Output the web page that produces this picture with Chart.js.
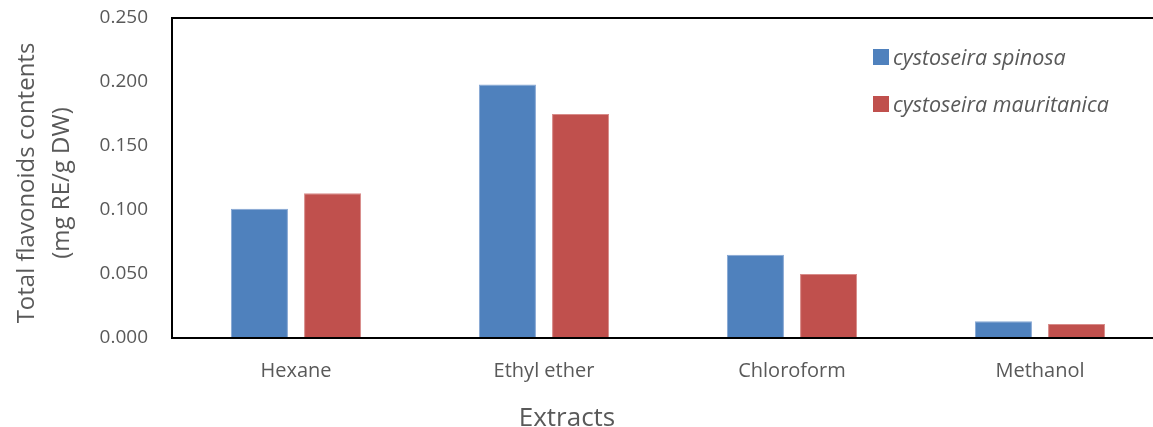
<!DOCTYPE html>
<html>
<head>
<meta charset="utf-8">
<script src="https://cdn.jsdelivr.net/npm/chart.js@4/dist/chart.umd.min.js"></script>
<style>
  html, body { margin: 0; padding: 0; background: #fff; overflow: hidden; }
  #wrap { position: relative; width: 1164px; height: 427px; }
</style>
</head>
<body>
<div id="wrap"><canvas id="chart"></canvas></div>
<script>
// Extract solvents and flavonoid contents (mg RE/g DW)
const categories = ['Hexane', 'Ethyl ether', 'Chloroform', 'Methanol'];
const spinosa = [0.101, 0.198, 0.065, 0.013];
const mauritanica = [0.113, 0.175, 0.050, 0.011];
const yTickLabels = ['0.000', '0.050', '0.100', '0.150', '0.200', '0.250'];
const seriesNames = ['cystoseira spinosa', 'cystoseira mauritanica'];
const yTitle = ['Total flavonoids contents', '(mg RE/g DW)'];
const xTitle = 'Extracts';

const TEXT = '#595959';
const FONT = '"Open Sans", "DejaVu Sans", sans-serif';

// Plot frame: left, top and bottom rules
const framePlugin = {
  id: 'frame',
  afterDatasetsDraw(chart) {
    const { ctx, chartArea: a } = chart;
    ctx.save();
    ctx.strokeStyle = '#000';
    ctx.lineWidth = 2;
    ctx.beginPath();
    ctx.moveTo(a.right + 2, a.top);
    ctx.lineTo(a.left, a.top);
    ctx.lineTo(a.left, a.bottom);
    ctx.lineTo(a.right + 2, a.bottom);
    ctx.stroke();
    ctx.restore();
  }
};

// Axis titles
const titlesPlugin = {
  id: 'titles',
  afterDraw(chart) {
    const { ctx } = chart;
    ctx.save();
    ctx.fillStyle = TEXT;
    ctx.font = '24px ' + FONT;
    ctx.textAlign = 'center';
    ctx.textBaseline = 'alphabetic';
    ctx.translate(34, 183);
    ctx.rotate(-Math.PI / 2);
    ctx.fillText(yTitle[0], 0, 0);
    ctx.fillText(yTitle[1], 0, 34.5);
    ctx.restore();

    ctx.save();
    ctx.fillStyle = TEXT;
    ctx.font = '26px ' + FONT;
    ctx.textAlign = 'center';
    ctx.textBaseline = 'alphabetic';
    ctx.fillText(xTitle, 567, 426);
    ctx.restore();
  }
};

// Legend in the upper right of the plot
const legendPlugin = {
  id: 'sideLegend',
  afterDraw(chart) {
    const { ctx } = chart;
    const rows = [{ box: 49, base: 65 }, { box: 96, base: 112 }];
    ctx.save();
    ctx.font = 'italic 21.5px ' + FONT;
    ctx.textAlign = 'left';
    ctx.textBaseline = 'alphabetic';
    chart.data.datasets.forEach((ds, i) => {
      const r = rows[i];
      ctx.fillStyle = ds.backgroundColor;
      ctx.fillRect(873, r.box, 16, 16);
      ctx.fillStyle = TEXT;
      ctx.fillText(ds.label, 893, r.base);
    });
    ctx.restore();
  }
};

new Chart(document.getElementById('chart'), {
  type: 'bar',
  data: {
    labels: categories,
    datasets: [
      {
        label: seriesNames[0],
        data: spinosa,
        backgroundColor: '#4F81BD',
        borderColor: '#86A6D3',
        borderWidth: 1,
        borderSkipped: 'start',
        categoryPercentage: 0.59,
        barPercentage: 0.78
      },
      {
        label: seriesNames[1],
        data: mauritanica,
        backgroundColor: '#C0504D',
        borderColor: '#D88B89',
        borderWidth: 1,
        borderSkipped: 'start',
        categoryPercentage: 0.59,
        barPercentage: 0.78
      }
    ]
  },
  options: {
    responsive: true,
    maintainAspectRatio: false,
    animation: false,
    devicePixelRatio: 1,
    layout: { padding: { top: 18, right: 0, bottom: 0, left: 0 } },
    plugins: {
      legend: { display: false },
      tooltip: { enabled: false }
    },
    scales: {
      x: {
        grid: { display: false, drawTicks: false, tickLength: 0 },
        border: { display: false },
        ticks: {
          color: TEXT,
          font: { family: FONT, size: 20 },
          padding: 21,
          maxRotation: 0,
          autoSkip: false
        },
        afterFit(scale) {
          scale.height = 89;
          scale.paddingLeft = 0;
          scale.paddingRight = 0;
        }
      },
      y: {
        min: 0,
        max: 0.25,
        grid: { display: false, drawTicks: false, tickLength: 0 },
        border: { display: false },
        ticks: {
          stepSize: 0.05,
          color: TEXT,
          font: { family: FONT, size: 19 },
          padding: 24,
          callback: (v, i) => yTickLabels[i]
        },
        afterFit(scale) {
          scale.width = 172;
          scale.paddingTop = 0;
          scale.paddingBottom = 0;
        }
      }
    }
  },
  plugins: [framePlugin, titlesPlugin, legendPlugin]
});
</script>
</body>
</html>
